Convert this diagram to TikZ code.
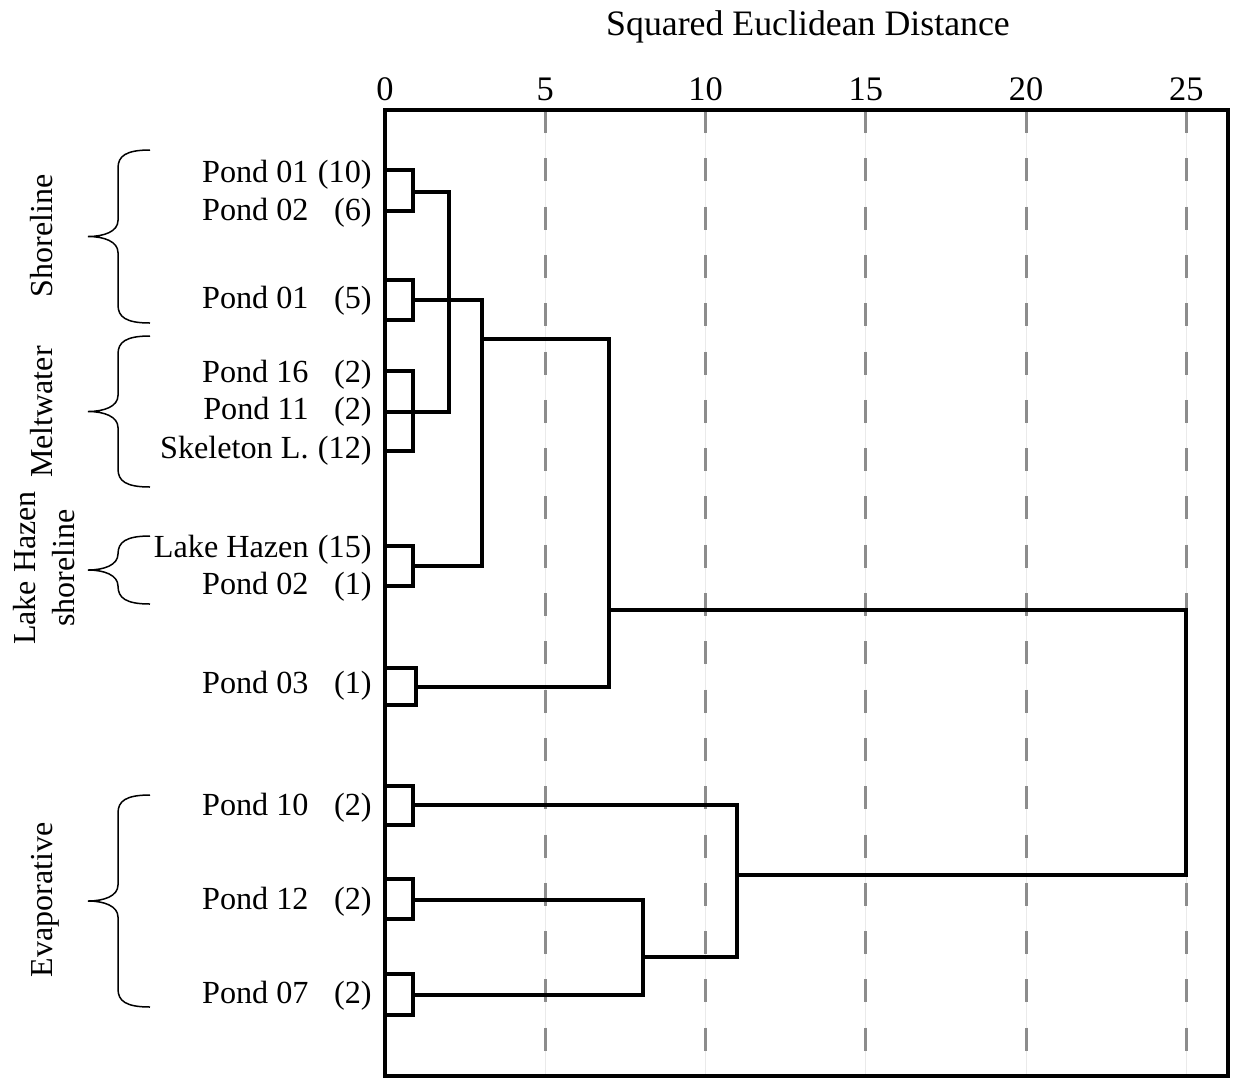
\documentclass[tikz,border=0pt]{standalone}
\usepackage{fontspec}
\setmainfont{Liberation Serif}
\usepackage{xcolor}
\usepackage{tikz}
\usetikzlibrary{positioning,calc}
\definecolor{clrGrid}{RGB}{140,140,140}
\definecolor{clrFaint}{RGB}{234,234,234}
\newcommand{\leaftext}[2]{#1\makebox[31.5pt][r]{(#2)}}
% brace in px: top, bottom
\newcommand{\groupbrace}[2]{%
  \draw[bracestyle] (150,#1) .. controls (126,#1) and (118,#1+6) .. (118,#1+18)
    -- (118,{(#1+#2)/2-16}) .. controls (118,{(#1+#2)/2-5}) and (104,{(#1+#2)/2}) .. (88,{(#1+#2)/2})
    .. controls (104,{(#1+#2)/2}) and (118,{(#1+#2)/2+5}) .. (118,{(#1+#2)/2+16})
    -- (118,#2-18) .. controls (118,#2-6) and (126,#2) .. (150,#2);}
\tikzset{
  frame/.style={line width=1.7pt,line join=miter},
  link/.style={line width=2pt,line join=miter},
  gridline/.style={line width=1.5pt,color=clrGrid,dash pattern=on 11.5pt off 12.65pt},
  faintline/.style={line width=0.4pt,color=clrFaint},
  bracestyle/.style={line width=0.75pt},
  leaf/.style={anchor=base east,inner sep=0pt,font=\fontsize{16.1}{19}\selectfont},
  group/.style={rotate=90,anchor=base,inner sep=0pt,font=\fontsize{16}{19}\selectfont},
  ticklabel/.style={anchor=base,inner sep=0pt,font=\fontsize{17.2}{20}\selectfont},
  axistitle/.style={anchor=base,inner sep=0pt,font=\fontsize{17.9}{21}\selectfont}
}

\begin{document}
\begin{tikzpicture}[x=0.5pt,y=-0.5pt]
  \useasboundingbox (0,0) rectangle (1233,1078);

  % distance grid
  \foreach \d in {5,10,...,25}{
    \draw[faintline] ({385+32.05*\d},110) -- ({385+32.05*\d},1076);
    \draw[gridline] ({385+32.05*\d},110) -- ({385+32.05*\d},1076);
  }
  \foreach \d in {0,5,...,25}
    \node[ticklabel] (tick\d) at ({385+32.05*\d},100) {\d};
  \node[axistitle] (title) at (808,35) {Squared Euclidean Distance};

  \draw[frame] (385,110) rectangle (1228,1076);

  % leaves
  \coordinate (l1) at (385,170);
  \coordinate (l2) at (385,211);
  \coordinate (l3a) at (385,280);
  \coordinate (l3b) at (385,320);
  \coordinate (l4) at (385,371);
  \coordinate (l5) at (385,412);
  \coordinate (l6) at (385,451);
  \coordinate (l7) at (385,546);
  \coordinate (l8) at (385,586);
  \coordinate (l9a) at (385,668);
  \coordinate (l9b) at (385,705);
  \coordinate (l10a) at (385,786);
  \coordinate (l10b) at (385,825);
  \coordinate (l11a) at (385,879);
  \coordinate (l11b) at (385,919);
  \coordinate (l12a) at (385,974);
  \coordinate (l12b) at (385,1015);

  % merges
  \coordinate (m1) at (413,192);
  \coordinate (m2) at (413,300);
  \coordinate (m3) at (413,412);
  \coordinate (m4) at (449,300);
  \coordinate (m5) at (482,339);
  \coordinate (m6) at (413,566);
  \coordinate (m7) at (416,687);
  \coordinate (m8) at (609,610);
  \coordinate (m9) at (413,805);
  \coordinate (m10) at (413,900);
  \coordinate (m11) at (413,995);
  \coordinate (m12) at (643,957);
  \coordinate (m13) at (737,875);
  \coordinate (m14) at (1186,742);

  \draw[link] (l1) -| (m1) |- (l2);
  \draw[link] (l3a) -| (m2) |- (l3b);
  \draw[link] (l4) -| (m3) |- (l6);
  \draw[link] (l5) -- (m3);
  \draw[link] (m1) -| (m4) |- (m3);
  \draw[link] (l7) -| (m6) |- (l8);
  \draw[link] (m2) -| (m5) |- (m6);
  \draw[link] (m4) -- (m4 -| m5);
  \draw[link] (l9a) -| (m7) |- (l9b);
  \draw[link] (m5) -| (m8) |- (m7);
  \draw[link] (l10a) -| (m9) |- (l10b);
  \draw[link] (l11a) -| (m10) |- (l11b);
  \draw[link] (l12a) -| (m11) |- (l12b);
  \draw[link] (m10) -| (m12) |- (m11);
  \draw[link] (m9) -| (m13) |- (m12);
  \draw[link] (m8) -| (m14) |- (m13);

  % leaf labels
  \node[leaf] (pond01a) at (372,182) {\leaftext{Pond 01}{10}};
  \node[leaf] (pond02a) at (372,220) {\leaftext{Pond 02}{6}};
  \node[leaf] (pond01b) at (372,308) {\leaftext{Pond 01}{5}};
  \node[leaf] (pond16) at (372,382) {\leaftext{Pond 16}{2}};
  \node[leaf] (pond11) at (372,419) {\leaftext{Pond 11}{2}};
  \node[leaf] (skeleton) at (372,458) {\leaftext{Skeleton L.}{12}};
  \node[leaf] (hazen) at (372,557) {\leaftext{Lake Hazen}{15}};
  \node[leaf] (pond02b) at (372,594) {\leaftext{Pond 02}{1}};
  \node[leaf] (pond03) at (372,693) {\leaftext{Pond 03}{1}};
  \node[leaf] (pond10) at (372,815) {\leaftext{Pond 10}{2}};
  \node[leaf] (pond12) at (372,909) {\leaftext{Pond 12}{2}};
  \node[leaf] (pond07) at (372,1003) {\leaftext{Pond 07}{2}};

  % groups
  \groupbrace{150}{323}
  \groupbrace{336}{487}
  \groupbrace{536}{604}
  \groupbrace{795}{1007}
  \node[group] (shoreline) at (53,236) {Shoreline};
  \node[group] (meltwater) at (53,412) {Meltwater};
  \node[group] (hazenA) at (35,568) {Lake Hazen};
  \node[group] (hazenB) at (75,568) {shoreline};
  \node[group] (evaporative) at (53,900) {Evaporative};
\end{tikzpicture}
\end{document}
